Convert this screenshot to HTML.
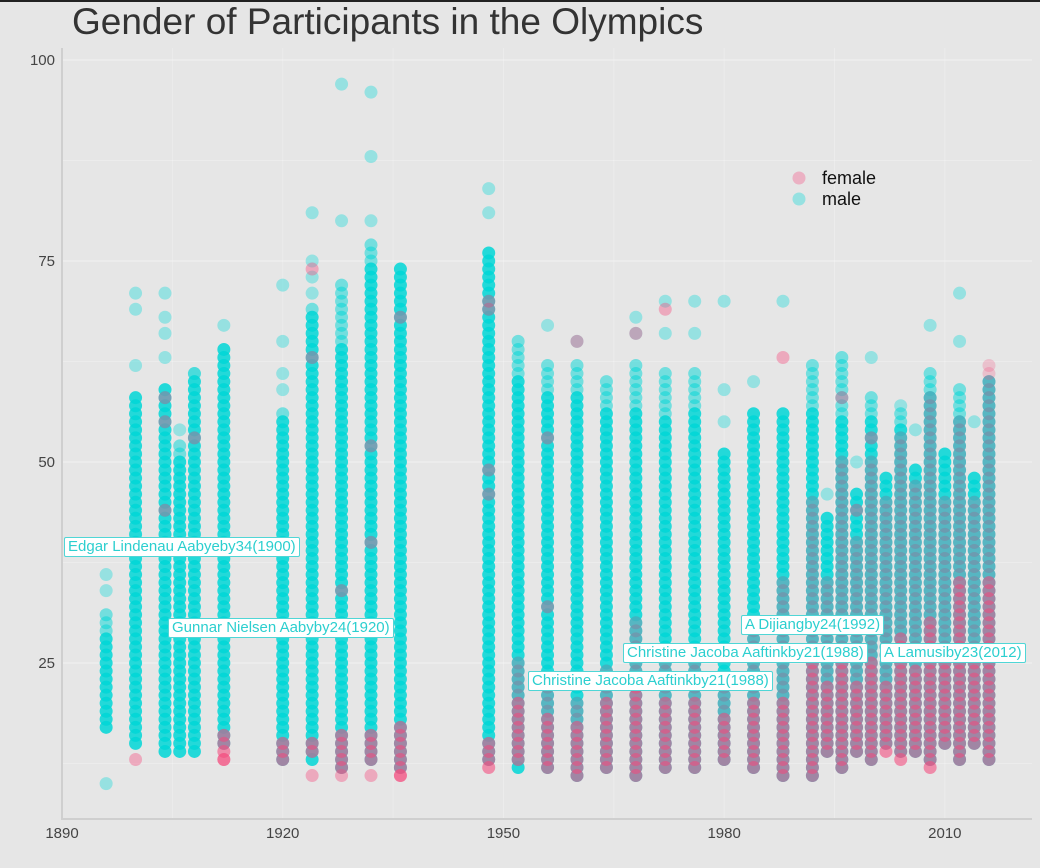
<!DOCTYPE html>
<html><head><meta charset="utf-8">
<style>
body{margin:0;background:#e6e6e6;font-family:"Liberation Sans",sans-serif;}
#wrap{position:relative;width:1040px;height:868px;overflow:hidden;background:#e6e6e6;}
.topbar{position:absolute;left:0;top:0;width:1040px;height:2px;background:#222;}
.title{position:absolute;left:72px;top:1px;font-size:37px;color:#333;white-space:nowrap;}
.ann{position:absolute;background:#fff;border:1px solid #4fd6d6;color:#2ccfcf;font-size:15px;line-height:18px;padding:0 3px;border-radius:2px;white-space:nowrap;}
</style></head><body>
<div id="wrap">
<div class="topbar"></div>
<div class="title">Gender of Participants in the Olympics</div>
<svg id="plot" width="1040" height="868" style="position:absolute;left:0;top:0"></svg>
<div class="ann" style="left:64px;top:537px">Edgar Lindenau Aabyeby34(1900)</div>
<div class="ann" style="left:168px;top:618px">Gunnar Nielsen Aabyby24(1920)</div>
<div class="ann" style="left:528px;top:671px">Christine Jacoba Aaftinkby21(1988)</div>
<div class="ann" style="left:623px;top:643px">Christine Jacoba Aaftinkby21(1988)</div>
<div class="ann" style="left:741px;top:615px">A Dijiangby24(1992)</div>
<div class="ann" style="left:880px;top:643px">A Lamusiby23(2012)</div>
</div>
<script>
const years=[1896,1900,1904,1906,1908,1912,1920,1924,1928,1932,1936,1948,1952,1956,1960,1964,1968,1972,1976,1980,1984,1988,1992,1994,1996,1998,2000,2002,2004,2006,2008,2010,2012,2014,2016];
const maleMin=[17,15,14,14,14,15,13,13,12,13,12,13,12,12,11,12,11,12,12,13,12,11,11,14,12,14,13,15,14,14,13,15,13,15,13];
const maleCore=[28,58,59,50,60,64,55,68,64,74,74,76,60,58,58,56,56,55,56,51,56,56,56,43,55,46,55,48,54,49,58,51,55,48,60];
const maleMax=[31,58,59,52,61,64,56,69,72,77,74,76,65,62,62,60,62,61,61,51,56,56,62,43,63,46,58,48,56,49,61,51,59,48,60];
const maleOut=[[34,36,10],[62,69,71],[63,66,68,71],[54],[61],[67],[59,61,65,72],[71,73,75,81],[80,97],[80,88,96],[],[81,84],[],[67],[65],[],[66,68],[66,70],[66,70],[55,59,70],[60],[70],[],[46],[],[50],[63],[],[57],[54],[67],[],[65,71],[55],[]];
const femaleMin=[0,0,0,0,0,13,13,14,12,13,11,12,13,12,11,12,11,12,12,13,12,11,11,14,12,14,13,14,13,14,12,15,13,15,13];
const femaleCore=[0,0,0,0,0,16,15,15,16,16,17,15,20,18,17,20,22,20,20,18,20,20,25,22,25,22,25,22,28,24,30,25,35,26,35];
const femaleMax=[0,0,0,0,0,16,15,15,16,16,17,15,25,22,20,24,30,26,26,22,30,35,45,35,50,40,50,45,53,47,58,45,55,45,62];
const femaleOut=[[],[13],[58,44,55],[],[53],[13],[],[74,11,63],[11,34],[11,40,52],[11,68],[46,49,69,70],[],[53,32],[65],[],[66],[69],[],[],[],[63],[],[],[58],[44],[53],[],[],[],[],[],[],[],[]];
const yTicks=[25,50,75,100];
const xTicks=[1890,1920,1950,1980,2010];

const svg=document.getElementById('plot');
const NS='http://www.w3.org/2000/svg';
function xs(yr){return 62+(yr-1890)*7.357;}
function ys(v){return 60+(100-v)*8.04;}
function mk(tag,attrs){const e=document.createElementNS(NS,tag);for(const k in attrs)e.setAttribute(k,attrs[k]);svg.appendChild(e);return e;}
for(let v=12.5;v<=100;v+=12.5){const l=mk('line',{x1:62,x2:1032,y1:ys(v),y2:ys(v),stroke:'#fff','stroke-opacity':(v%25===0)?0.45:0.25,'stroke-width':1});

}
for(let yr=1890;yr<=2025;yr+=15){const l=mk('line',{x1:xs(yr),x2:xs(yr),y1:48,y2:819,stroke:'#fff','stroke-opacity':(yr%30===20)?0.45:0.25,'stroke-width':1});

}
const ax1=mk('line',{x1:62,x2:62,y1:48,y2:819,stroke:'#cfcfcf','stroke-width':2});


const ax2=mk('line',{x1:61,x2:1032,y1:819,y2:819,stroke:'#cfcfcf','stroke-width':2});


yTicks.forEach(v=>{const t=mk('text',{x:55,y:ys(v)+5,'text-anchor':'end','font-size':15,fill:'#444','font-family':'Liberation Sans, sans-serif'});t.textContent=v;

});
xTicks.forEach(v=>{const t=mk('text',{x:xs(v),y:838,'text-anchor':'middle','font-size':15,fill:'#444','font-family':'Liberation Sans, sans-serif'});t.textContent=v;

});
const MC='rgb(0,214,214)',FC='rgb(244,78,128)';
function dot(yr,age,col,op,name){const c=mk('circle',{cx:xs(yr),cy:ys(age),r:6.5,fill:col,'fill-opacity':op});

}
years.forEach((yr,i)=>{
  for(let a=maleMin[i];a<=maleMax[i];a++){dot(yr,a,MC,a<=maleCore[i]?0.85:0.5,'male-point');}
  maleOut[i].forEach(a=>dot(yr,a,MC,0.35,'male-point'));
});
years.forEach((yr,i)=>{
  if(femaleMin[i]>0){for(let a=femaleMin[i];a<=femaleMax[i];a++){dot(yr,a,FC,a<=femaleCore[i]?0.6:0.25,'female-point');}}
  femaleOut[i].forEach(a=>dot(yr,a,FC,0.4,'female-point'));
});
const lg=[['female',FC],['male',MC]];
lg.forEach((e,k)=>{const c=mk('circle',{cx:799,cy:178+k*21,r:6.5,fill:e[1],'fill-opacity':0.35});


const t=mk('text',{x:822,y:184+k*21,'font-size':18,fill:'#111','font-family':'Liberation Sans, sans-serif'});t.textContent=e[0];

});
</script>
</body></html>
